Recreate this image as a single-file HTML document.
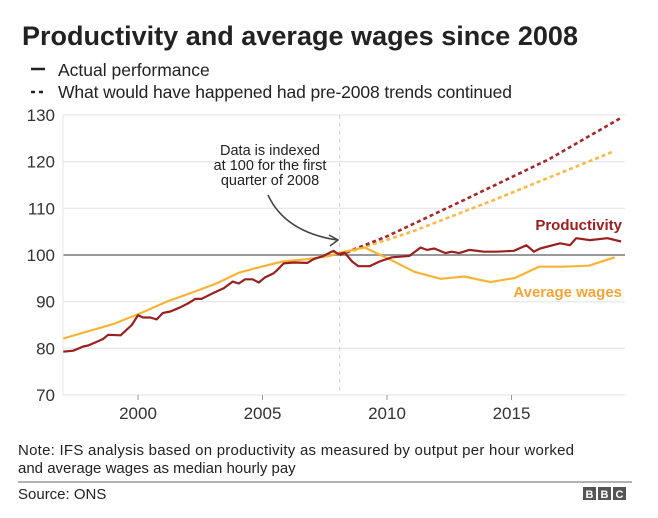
<!DOCTYPE html>
<html><head><meta charset="utf-8"><style>
body{margin:0;background:#fff;width:658px;height:513px;overflow:hidden;font-family:"Liberation Sans",Arial,sans-serif;}
svg text{font-family:"Liberation Sans",Arial,sans-serif;}
</style></head><body>
<svg id="chart" width="658" height="513" xmlns="http://www.w3.org/2000/svg">
<text x="22" y="45" font-size="27" font-weight="bold" fill="#222" textLength="556">Productivity and average wages since 2008</text>
<g>
<line x1="31" y1="69" x2="45" y2="69" stroke="#222" stroke-width="2.5"/>
<text x="58" y="76" font-size="17.5" fill="#222">Actual performance</text>
<line x1="31" y1="92" x2="46" y2="92" stroke="#222" stroke-width="2.5" stroke-dasharray="4,4"/>
<text x="58" y="98" font-size="17.5" fill="#222" textLength="454">What would have happened had pre-2008 trends continued</text>
</g>
<g id="grid"></g>
<g id="yaxis"></g>
<g id="xaxis"></g>
<g id="series"></g>
<g>
<text x="270" y="155" font-size="14.5" fill="#222" text-anchor="middle">Data is indexed</text>
<text x="270" y="170" font-size="14.5" fill="#222" text-anchor="middle">at 100 for the first</text>
<text x="270" y="185" font-size="14.5" fill="#222" text-anchor="middle">quarter of 2008</text>
<path d="M268,195 Q285,232 337,240" fill="none" stroke="#444" stroke-width="1.5"/>
<path d="M329,235 L338,240 L330,246" fill="none" stroke="#444" stroke-width="1.5"/>
</g>
<text x="622" y="230" font-size="15" font-weight="bold" fill="#99201f" text-anchor="end">Productivity</text>
<text x="622" y="297" font-size="15" font-weight="bold" fill="#f3a53a" text-anchor="end">Average wages</text>
<text x="18" y="455" font-size="15" fill="#222" textLength="556">Note: IFS analysis based on productivity as measured by output per hour worked</text>
<text x="18" y="473" font-size="15" fill="#222">and average wages as median hourly pay</text>
<line x1="18" y1="482" x2="632" y2="482" stroke="#999" stroke-width="1.5"/>
<text x="18" y="499" font-size="15" fill="#222">Source: ONS</text>
<g>
<rect x="583" y="487" width="13" height="13" fill="#555"/><rect x="598" y="487" width="13" height="13" fill="#555"/><rect x="613" y="487" width="13" height="13" fill="#555"/>
<text x="589.5" y="498" font-size="11" font-weight="bold" fill="#fff" text-anchor="middle">B</text>
<text x="604.5" y="498" font-size="11" font-weight="bold" fill="#fff" text-anchor="middle">B</text>
<text x="619.5" y="498" font-size="11" font-weight="bold" fill="#fff" text-anchor="middle">C</text>
</g>
</svg>
<script>
const yTicks=[70,80,90,100,110,120,130];
const xTicks=[2000,2005,2010,2015];
const prodYears=[1997.0,1997.4,1997.8,1998.0,1998.35,1998.6,1998.8,1999.3,1999.75,2000.0,2000.2,2000.5,2000.75,2001.0,2001.3,2001.7,2002.0,2002.3,2002.55,2003.0,2003.45,2003.8,2004.05,2004.3,2004.6,2004.85,2005.1,2005.45,2005.6,2005.85,2006.25,2006.8,2007.05,2007.45,2007.85,2008.05,2008.3,2008.6,2008.85,2009.3,2009.7,2010.2,2010.9,2011.35,2011.6,2011.9,2012.35,2012.6,2012.9,2013.3,2013.9,2014.4,2015.1,2015.6,2015.9,2016.15,2016.95,2017.35,2017.6,2018.15,2018.85,2019.4];
const prodValues=[79.3,79.5,80.4,80.6,81.4,82.0,82.9,82.8,85.0,87.1,86.6,86.6,86.2,87.6,87.9,88.8,89.6,90.6,90.6,91.8,92.9,94.3,93.9,94.8,94.8,94.1,95.2,96.1,96.8,98.2,98.4,98.3,99.1,99.8,100.9,100.2,100.5,98.6,97.6,97.6,98.6,99.5,99.8,101.6,101.1,101.4,100.4,100.7,100.4,101.1,100.7,100.7,100.9,102.1,100.7,101.4,102.5,102.1,103.6,103.2,103.6,102.9];
const wageYears=[1997.0,1999.0,2000.1,2001.15,2002.25,2003.15,2004.05,2004.9,2005.8,2006.8,2007.7,2008.1,2009.1,2010.1,2011.1,2012.15,2013.1,2014.15,2015.15,2016.1,2017.1,2018.1,2019.15];
const wageValues=[82.1,85.2,87.5,90.0,92.1,93.9,96.2,97.4,98.6,99.1,99.8,100.5,101.6,99.1,96.4,94.9,95.4,94.2,95.1,97.5,97.5,97.7,99.5];
const prodTrendYears=[2008.1,2010,2013.1,2016.5,2019.4];
const prodTrendValues=[100,104,111.8,120.5,129.4];
const wageTrendYears=[2008.1,2011,2014.3,2019.05];
const wageTrendValues=[100,105,111.8,122.1];
const X0=63,X1=625;
function xs(y){return 138+(y-2000)*24.9;}
function ys(v){return 255-(v-100)*4.667;}
const NS='http://www.w3.org/2000/svg';
function mk(t,a,p){const e=document.createElementNS(NS,t);for(const k in a)e.setAttribute(k,a[k]);p.appendChild(e);return e;}
const grid=document.getElementById('grid'),ya=document.getElementById('yaxis'),xa=document.getElementById('xaxis'),se=document.getElementById('series');
yTicks.forEach(v=>{
 const l=mk('line',{x1:X0,x2:X1,y1:ys(v),y2:ys(v),stroke:v===100?'#999':'#e6e6e6','stroke-width':v===100?2:1.2},grid);
 
 
 const t=mk('text',{x:55,y:ys(v)+6,'font-size':17,fill:'#333','text-anchor':'end'},ya);
 t.textContent=v;
 
 
});
const vl=mk('line',{x1:X0,x2:X0,y1:ys(130),y2:ys(70),stroke:'#e6e6e6','stroke-width':1},grid);


xTicks.forEach(y=>{
 const t=mk('text',{x:xs(y),y:419,'font-size':17,fill:'#333','text-anchor':'middle'},xa);
 t.textContent=y;
 
 
 const tk=mk('line',{x1:xs(y),x2:xs(y),y1:ys(70),y2:ys(70)+5,stroke:'#999'},xa);
 
 
});
const ref=mk('line',{x1:xs(2008.1),x2:xs(2008.1),y1:ys(130),y2:ys(70),stroke:'#ccc','stroke-dasharray':'4,4'},grid);


function line(xsA,vs,col,dash,name){
 const d=xsA.map((y,i)=>(i?'L':'M')+xs(y).toFixed(1)+','+ys(vs[i]).toFixed(1)).join(' ');
 const p=mk('path',{d:d,fill:'none',stroke:col,'stroke-width':dash?2.6:2.2,'stroke-linejoin':'round'},se);
 if(dash)p.setAttribute('stroke-dasharray','4,3');
 
 
}
line(wageTrendYears,wageTrendValues,'#f8b84a',true,'wages-trend-line');
line(prodTrendYears,prodTrendValues,'#a4292a',true,'productivity-trend-line');
line(wageYears,wageValues,'#f8b337',false,'wages-line');
line(prodYears,prodValues,'#99201f',false,'productivity-line');
</script>
</body></html>
